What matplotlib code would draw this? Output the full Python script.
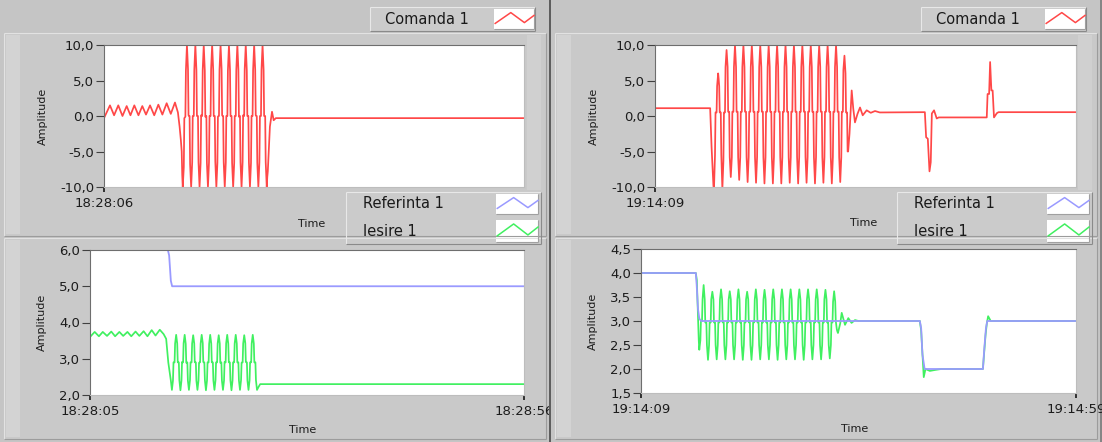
import numpy as np
import matplotlib
matplotlib.use('Agg')
import matplotlib.pyplot as plt
from matplotlib.patches import Rectangle
from matplotlib.ticker import FuncFormatter
from matplotlib.transforms import Bbox, TransformedBbox

W, H = 1102, 442
DT = 0.0625         # sample interval inside the recorded bursts [s]

RED = '#ff4848'
BLUE = '#9a9aff'
GREEN = '#40f060'

# ---------------- run 1 : 18:28 ----------------
# Comanda 1 (chart starts 18:28:06)
cmd1_pre_t = [0.00, 0.71, 1.20, 1.70, 2.20, 2.70, 3.15, 3.61, 4.10, 4.56, 5.00,
              5.48, 5.98, 6.47, 6.95, 7.46, 7.95, 8.45, 8.80, 9.00, 9.15]
cmd1_pre_y = [-0.3, 1.5, 0.1, 1.5, 0.0, 1.4, 0.1, 1.5, 0.1, 1.4, 0.2,
              1.5, 0.1, 1.6, 0.2, 1.8, 0.3, 1.9, 0.5, -1.5, -3.4]
cmd1_t0 = 9.25
cmd1_burst = [
    -5.0, -8.3,
    -10.0, -8.6, -7.2, -0.3, -0.2, -0.1, 6.4, 8.2, 10.0, 8.4, 6.6, 0.1, 0.0, 0.0, -6.8, -8.4,
    -10.0, -8.3, -6.5, 0.0, 0.0, 0.0, 6.5, 8.3, 10.0, 8.3, 6.5, 0.0, 0.0, 0.0, -6.5, -8.3,
    -10.0, -8.3, -6.6, 0.1, 0.0, 0.0, 6.5, 8.3, 10.0, 8.2, 6.4, -0.1, 0.0, 0.0, -6.6, -8.3,
    -10.0, -8.3, -6.5, 0.0, 0.0, 0.0, 6.6, 8.3, 10.0, 8.3, 6.5, 0.0, 0.0, 0.0, -6.4, -8.2,
    -10.0, -8.3, -6.6, -0.1, 0.0, 0.0, 6.5, 8.3, 10.0, 8.3, 6.6, 0.1, 0.0, 0.0, -6.5, -8.3,
    -10.0, -8.3, -6.5, 0.0, 0.0, 0.0, 6.4, 8.2, 10.0, 8.3, 6.5, 0.0, 0.0, 0.0, -6.6, -8.3,
    -10.0, -8.3, -6.6, 0.0, 0.0, 0.0, 6.5, 8.3, 10.0, 8.3, 6.5, -0.1, 0.0, 0.0, -6.5, -8.3,
    -10.0, -8.3, -6.5, 0.1, 0.0, 0.0, 6.6, 8.3, 10.0, 8.2, 6.4, 0.0, 0.0, 0.0, -6.5, -8.3,
    -10.0, -8.3, -6.6, 0.0, 0.0, 0.0, 6.5, 8.3, 10.0, 8.3, 6.5, 0.1, 0.0, 0.0, -6.6, -8.3,
    -10.0, -8.3, -6.5, 0.0, 0.0, 0.0, 6.5, 8.3, 10.0, 8.3, 6.5, 0.0, 0.0, 0.0, -6.5, -8.3,
    -10.0, -8.6, -7.8,
]
cmd1_post_t = [19.75, 20.00, 20.20, 20.45, 50.00]
cmd1_post_y = [-1.5, 0.6, -0.6, -0.3, -0.3]

# Referinta 1 / Iesire 1 (chart 18:28:05 .. 18:28:56)
ref1_t = [0.0, 9.15, 9.30, 9.40, 9.50, 9.65, 51.0]
ref1_y = [6.0, 6.0, 5.85, 5.5, 5.15, 5.0, 5.0]

out1_pre_t = [0.00, 0.55, 1.05, 1.50, 2.00, 2.50, 2.95, 3.45, 3.90, 4.40, 4.85,
              5.35, 5.80, 6.30, 6.75, 7.25, 7.70, 8.20, 8.65, 8.95, 9.20]
out1_pre_y = [3.60, 3.74, 3.62, 3.74, 3.63, 3.75, 3.62, 3.74, 3.63, 3.74, 3.62,
              3.75, 3.63, 3.76, 3.62, 3.79, 3.64, 3.80, 3.68, 3.55, 2.90]
out1_t0 = 9.5
out1_burst = [
    2.40, 2.27,
    2.14, 2.27, 2.40, 2.90, 2.90, 2.90, 3.42, 3.54, 3.66, 3.54, 3.42, 2.90, 2.90, 2.90, 2.41, 2.27,
    2.13, 2.27, 2.40, 2.91, 2.90, 2.90, 3.43, 3.55, 3.66, 3.53, 3.41, 2.89, 2.90, 2.90, 2.40, 2.27,
    2.14, 2.28, 2.41, 2.90, 2.90, 2.90, 3.42, 3.54, 3.65, 3.54, 3.42, 2.90, 2.90, 2.90, 2.40, 2.27,
    2.14, 2.27, 2.40, 2.89, 2.90, 2.90, 3.42, 3.54, 3.66, 3.55, 3.43, 2.91, 2.90, 2.90, 2.41, 2.27,
    2.13, 2.27, 2.40, 2.90, 2.90, 2.90, 3.41, 3.54, 3.66, 3.54, 3.42, 2.90, 2.90, 2.90, 2.40, 2.27,
    2.14, 2.28, 2.41, 2.90, 2.90, 2.90, 3.42, 3.54, 3.65, 3.54, 3.42, 2.89, 2.90, 2.90, 2.40, 2.27,
    2.14, 2.27, 2.40, 2.91, 2.90, 2.90, 3.43, 3.55, 3.66, 3.53, 3.41, 2.90, 2.90, 2.90, 2.41, 2.27,
    2.13, 2.27, 2.40, 2.90, 2.90, 2.90, 3.42, 3.54, 3.66, 3.54, 3.42, 2.90, 2.90, 2.90, 2.40, 2.27,
    2.14, 2.28, 2.41, 2.89, 2.90, 2.90, 3.42, 3.54, 3.65, 3.54, 3.43, 2.91, 2.90, 2.90, 2.40, 2.27,
    2.14, 2.27, 2.40, 2.90, 2.90, 2.90, 3.42, 3.54, 3.66, 3.54, 3.42, 2.90, 2.90, 2.90, 2.41, 2.27,
    2.14,
]
out1_post_t = [19.80, 20.00, 51.00]
out1_post_y = [2.22, 2.30, 2.30]

# ---------------- run 2 : 19:14 ----------------
cmd2_pre_t = [0.00, 6.55, 6.72]
cmd2_pre_y = [1.10, 1.10, -4.40]
cmd2_t0 = 6.875
cmd2_burst = [
    -8.1, -9.8,
    -10.5, -8.0, -5.5, 0.5, 0.5, 0.5, 4.2, 5.2, 6.0, 5.2, 4.2, 0.5, 0.5, 0.5, -5.5, -8.0,
    -10.3, -8.3, -6.3, 0.5, 0.5, 0.5, 6.9, 8.1, 9.3, 8.1, 6.9, 0.6, 0.6, 0.6, -5.8, -7.2,
    -8.6, -7.2, -5.8, 0.6, 0.6, 0.6, 6.9, 8.5, 10.0, 8.5, 6.9, 0.6, 0.6, 0.6, -5.8, -7.4,
    -9.0, -7.4, -5.8, 0.6, 0.6, 0.6, 6.9, 8.5, 10.0, 8.5, 6.9, 0.6, 0.6, 0.6, -5.8, -7.6,
    -9.3, -7.6, -5.8, 0.6, 0.6, 0.6, 6.9, 8.5, 10.0, 8.5, 6.9, 0.6, 0.6, 0.6, -5.8, -7.6,
    -9.4, -7.6, -5.8, 0.6, 0.6, 0.6, 6.9, 8.5, 10.0, 8.5, 6.9, 0.6, 0.6, 0.6, -5.8, -7.7,
    -9.5, -7.7, -5.8, 0.6, 0.6, 0.6, 6.9, 8.5, 10.0, 8.5, 6.9, 0.6, 0.6, 0.6, -5.8, -7.7,
    -9.5, -7.7, -5.8, 0.6, 0.6, 0.6, 6.9, 8.5, 10.0, 8.5, 6.9, 0.6, 0.6, 0.6, -5.8, -7.7,
    -9.5, -7.7, -5.8, 0.6, 0.6, 0.6, 6.9, 8.5, 10.0, 8.5, 6.9, 0.6, 0.6, 0.6, -5.8, -7.6,
    -9.4, -7.6, -5.8, 0.6, 0.6, 0.6, 6.9, 8.5, 10.0, 8.5, 6.9, 0.6, 0.6, 0.6, -5.8, -7.7,
    -9.5, -7.7, -5.8, 0.6, 0.6, 0.6, 6.9, 8.5, 10.0, 8.5, 6.9, 0.6, 0.6, 0.6, -5.8, -7.6,
    -9.4, -7.6, -5.8, 0.6, 0.6, 0.6, 6.9, 8.5, 10.0, 8.5, 6.9, 0.6, 0.6, 0.6, -5.8, -7.7,
    -9.5, -7.7, -5.8, 0.6, 0.6, 0.6, 6.9, 8.5, 10.0, 8.5, 6.9, 0.6, 0.6, 0.6, -5.8, -7.6,
    -9.4, -7.6, -5.8, 0.6, 0.6, 0.6, 6.9, 8.5, 10.0, 8.5, 6.9, 0.6, 0.6, 0.6, -5.8, -7.7,
    -9.5, -7.7, -5.8, 0.6, 0.6, 0.6, 6.9, 8.5, 10.0, 8.5, 6.9, 0.6, 0.6, 0.6, -5.8, -7.6,
    -9.3, -7.6, -5.8, 0.6, 0.6, 0.6, 6.5, 7.5, 8.5, 7.3, 6.0, 0.5, 0.5, 0.5, -5.0, -5.0,
]
cmd2_post_t = [23.10, 23.36, 23.55, 23.75, 24.05, 24.35, 24.67, 25.14, 25.62, 26.13, 26.70,
               32.05, 32.20, 32.40, 32.60, 32.75, 32.88, 33.14, 33.46, 33.70,
               39.40, 39.50, 39.68, 39.80, 39.95, 40.10, 40.26, 40.60, 40.80, 50.00]
cmd2_post_y = [-2.5, 3.6, 1.0, -0.9, 0.3, 1.2, 0.1, 0.8, 0.45, 0.7, 0.5,
               0.54, -3.0, -3.2, -7.8, -6.5, 0.35, 0.8, -0.35, -0.2,
               -0.2, 3.1, 3.1, 7.6, 3.6, 3.6, -0.2, 0.4, 0.54, 0.54]

ref2_t = [0.0, 6.30, 6.40, 6.55, 6.70, 6.90, 32.05, 32.20, 32.35, 32.60,
          39.30, 39.45, 39.65, 39.80, 50.0]
ref2_y = [4.0, 4.0, 3.75, 3.25, 3.05, 3.0, 3.0, 2.85, 2.3, 2.0,
          2.0, 2.4, 2.85, 3.0, 3.0]

out2_pre_t = [0.0, 6.30, 6.42]
out2_pre_y = [4.0, 4.0, 3.85]
out2_t0 = 6.575
out2_burst = [
    3.00, 2.60,
    2.40, 2.50, 2.60, 3.00, 3.00, 3.00, 3.45, 3.60, 3.75, 3.60, 3.45, 2.97, 2.97, 2.97, 2.50, 2.35,
    2.19, 2.35, 2.50, 2.97, 2.97, 2.97, 3.45, 3.53, 3.61, 3.53, 3.45, 2.97, 2.97, 2.97, 2.50, 2.35,
    2.20, 2.35, 2.50, 2.97, 2.97, 2.97, 3.45, 3.55, 3.66, 3.55, 3.45, 2.97, 2.97, 2.97, 2.50, 2.35,
    2.20, 2.35, 2.50, 2.97, 2.97, 2.97, 3.45, 3.54, 3.62, 3.54, 3.45, 2.97, 2.97, 2.97, 2.50, 2.35,
    2.20, 2.35, 2.50, 2.97, 2.97, 2.97, 3.45, 3.55, 3.66, 3.55, 3.45, 2.97, 2.97, 2.97, 2.50, 2.35,
    2.19, 2.35, 2.50, 2.97, 2.97, 2.97, 3.45, 3.53, 3.61, 3.53, 3.45, 2.97, 2.97, 2.97, 2.50, 2.35,
    2.19, 2.35, 2.50, 2.97, 2.97, 2.97, 3.45, 3.55, 3.66, 3.55, 3.45, 2.97, 2.97, 2.97, 2.50, 2.35,
    2.20, 2.35, 2.50, 2.97, 2.97, 2.97, 3.45, 3.55, 3.65, 3.55, 3.45, 2.97, 2.97, 2.97, 2.50, 2.35,
    2.20, 2.35, 2.50, 2.97, 2.97, 2.97, 3.45, 3.55, 3.66, 3.55, 3.45, 2.97, 2.97, 2.97, 2.50, 2.35,
    2.19, 2.35, 2.50, 2.97, 2.97, 2.97, 3.45, 3.55, 3.66, 3.55, 3.45, 2.97, 2.97, 2.97, 2.50, 2.35,
    2.20, 2.35, 2.50, 2.97, 2.97, 2.97, 3.45, 3.55, 3.66, 3.55, 3.45, 2.97, 2.97, 2.97, 2.50, 2.35,
    2.20, 2.35, 2.50, 2.97, 2.97, 2.97, 3.45, 3.55, 3.66, 3.55, 3.45, 2.97, 2.97, 2.97, 2.50, 2.35,
    2.19, 2.35, 2.50, 2.97, 2.97, 2.97, 3.45, 3.55, 3.66, 3.55, 3.45, 2.97, 2.97, 2.97, 2.50, 2.35,
    2.20, 2.35, 2.50, 2.97, 2.97, 2.97, 3.45, 3.55, 3.66, 3.55, 3.45, 2.97, 2.97, 2.97, 2.50, 2.35,
    2.20, 2.35, 2.50, 2.97, 2.97, 2.97, 3.45, 3.55, 3.65, 3.55, 3.45, 2.97, 2.97, 2.97, 2.50, 2.35,
    2.22, 2.35, 2.50, 2.97, 2.97, 2.97, 3.40, 3.51, 3.62, 3.51, 3.40, 3.00, 2.90, 2.82, 2.78, 2.75,
]
out2_post_t = [22.90, 23.07, 23.45, 23.83, 24.20, 24.60, 25.00, 32.05, 32.20, 32.35,
               32.50, 32.70, 33.20, 33.80, 34.50, 39.30, 39.45, 39.60, 39.75, 39.90,
               40.20, 50.0]
out2_post_y = [2.95, 3.17, 2.92, 3.06, 2.96, 3.02, 3.00, 3.00, 2.80, 2.30,
               1.83, 2.00, 1.96, 1.98, 2.00, 2.00, 2.35, 2.70, 2.95, 3.10,
               3.00, 3.00]


def trace(pre_t, pre_y, t0, burst, post_t, post_y):
    t = np.concatenate([pre_t, t0 + DT * np.arange(len(burst)), post_t])
    y = np.concatenate([pre_y, burst, post_y])
    return t, y


fig = plt.figure(figsize=(W / 100, H / 100), dpi=100, facecolor='#c5c5c5')
bg = fig.add_axes([0, 0, 1, 1])
bg.set_xlim(0, W)
bg.set_ylim(H, 0)
bg.axis('off')


def box(x0, y0, x1, y1, face, light=None, dark=None, lw=0.8):
    bg.add_patch(Rectangle((x0, y0), x1 - x0, y1 - y0, facecolor=face, edgecolor='none'))
    if light:
        bg.plot([x0, x1], [y0, y0], color=light, lw=lw, solid_capstyle='butt')
        bg.plot([x0, x0], [y0, y1], color=light, lw=lw, solid_capstyle='butt')
    if dark:
        bg.plot([x0, x1], [y1, y1], color=dark, lw=lw, solid_capstyle='butt')
        bg.plot([x1, x1], [y0, y1], color=dark, lw=lw, solid_capstyle='butt')


def swatch(x0, y0, x1, y1, color):
    box(x0, y0, x1, y1, 'white', dark='#a0a0a0')
    fx = np.array([0.03, 0.42, 0.76, 1.0])
    fy = np.array([0.72, 0.18, 0.68, 0.32])
    bg.plot(x0 + fx * (x1 - x0), y0 + fy * (y1 - y0), color=color, lw=1.1)


def legend_text(x, y, s):
    bg.text(x, y, s, fontsize=10.5, color='#1a1a1a', ha='left', va='center')


for ox in (0, 551):
    # graph frames
    box(ox + 4, 33, ox + 546, 236, '#c9c9c9', light='#e2e2e2', dark='#9c9c9c')
    box(ox + 6, 35, ox + 20, 234, '#d3d3d3')
    box(ox + 527, 35, ox + 541, 190, '#d0d0d0')
    box(ox + 4, 238, ox + 546, 439, '#c9c9c9', light='#e2e2e2', dark='#9c9c9c')
    box(ox + 6, 240, ox + 20, 437, '#d3d3d3')
    # plot legends
    box(ox + 370, 7, ox + 535, 31, '#cbcbcb', light='#e8e8e8', dark='#8a8a8a')
    legend_text(ox + 385, 19, 'Comanda 1')
    swatch(ox + 494, 9, ox + 534, 29, RED)
    box(ox + 346, 192, ox + 541, 244, '#cbcbcb', light='#e8e8e8', dark='#8a8a8a')
    legend_text(ox + 363, 204, 'Referinta 1')
    legend_text(ox + 363, 231, 'Iesire 1')
    swatch(ox + 496, 194, ox + 538, 214, BLUE)
    swatch(ox + 496, 220, ox + 538, 242, GREEN)

bg.plot([550, 550], [0, H], color='#5c5c5c', lw=1.4)
bg.plot([1100.5, 1100.5], [0, H], color='#7a7a7a', lw=1.2)

comma = FuncFormatter(lambda v, _: f'{v:.1f}'.replace('.', ','))


def chart(px, ylim, yticks, xlim, xticks, xlabels, amp_xy, time_xy):
    x0, y0, x1, y1 = px
    ax = fig.add_axes([x0 / W, 1 - y1 / H, (x1 - x0) / W, (y1 - y0) / H])
    ax.set_facecolor('white')
    ax.set_xlim(*xlim)
    ax.set_ylim(*ylim)
    ax.set_yticks(yticks)
    ax.yaxis.set_major_formatter(comma)
    ax.set_xticks(xticks, xlabels)
    ax.tick_params(axis='y', direction='out', length=5.5, width=0.8, pad=1.5,
                   color='#404040', labelcolor='#1c1c1c', labelsize=9.5)
    ax.tick_params(axis='x', direction='out', length=3.5, width=1.4, pad=4,
                   color='#303030', labelcolor='#1c1c1c', labelsize=9.5)
    for s in ('left', 'top'):
        ax.spines[s].set_color('#6e6e6e')
    for s in ('right', 'bottom'):
        ax.spines[s].set_color('#bdbdbd')
    for s in ax.spines.values():
        s.set_linewidth(0.8)
    ax.set_ylabel('Amplitude', fontsize=8, color='#1c1c1c')
    ax.yaxis.set_label_coords(*amp_xy, transform=bg.transData)
    ax.yaxis.label.set_va('center')
    ax.set_xlabel('Time', fontsize=8, color='#1c1c1c')
    ax.xaxis.set_label_coords(*time_xy, transform=bg.transData)
    ax.xaxis.label.set_va('center')
    return ax


# run 1
ax_tl = chart((104, 45, 524, 187), (-10, 10), [-10, -5, 0, 5, 10],
              (0, 50), [0], ['18:28:06'], (43, 116), (312, 224))
ax_tl.plot(*trace(cmd1_pre_t, cmd1_pre_y, cmd1_t0, cmd1_burst, cmd1_post_t, cmd1_post_y),
           color=RED, lw=1.25)

ax_bl = chart((90, 250, 524, 395), (2, 6), [2, 3, 4, 5, 6],
              (0, 51), [0, 51], ['18:28:05', '18:28:56'], (42, 322), (303, 430))
ax_bl.plot(*trace(out1_pre_t, out1_pre_y, out1_t0, out1_burst, out1_post_t, out1_post_y),
           color=GREEN, lw=1.25)
ax_bl.plot(ref1_t, ref1_y, color=BLUE, lw=1.3)

# the right-hand time stamp of the left chart is cut by the panel border
left_half = TransformedBbox(Bbox.from_extents(0, 0, 549 / W, 1), fig.transFigure)
for lbl in ax_bl.get_xticklabels():
    lbl.set_clip_box(left_half)
    lbl.set_clip_on(True)

# run 2
ax_tr = chart((655, 45, 1076, 187), (-10, 10), [-10, -5, 0, 5, 10],
              (0, 50), [0], ['19:14:09'], (594, 116), (864, 223))
ax_tr.plot(*trace(cmd2_pre_t, cmd2_pre_y, cmd2_t0, cmd2_burst, cmd2_post_t, cmd2_post_y),
           color=RED, lw=1.25)

ax_br = chart((641, 249, 1076, 393), (1.5, 4.5), [1.5, 2, 2.5, 3, 3.5, 4, 4.5],
              (0, 50), [0, 50], ['19:14:09', '19:14:59'], (593, 321), (855, 429))
ax_br.plot(*trace(out2_pre_t, out2_pre_y, out2_t0, out2_burst, out2_post_t, out2_post_y),
           color=GREEN, lw=1.25)
ax_br.plot(ref2_t, ref2_y, color=BLUE, lw=1.3)

fig.savefig('out.png', dpi=100, facecolor=fig.get_facecolor())
